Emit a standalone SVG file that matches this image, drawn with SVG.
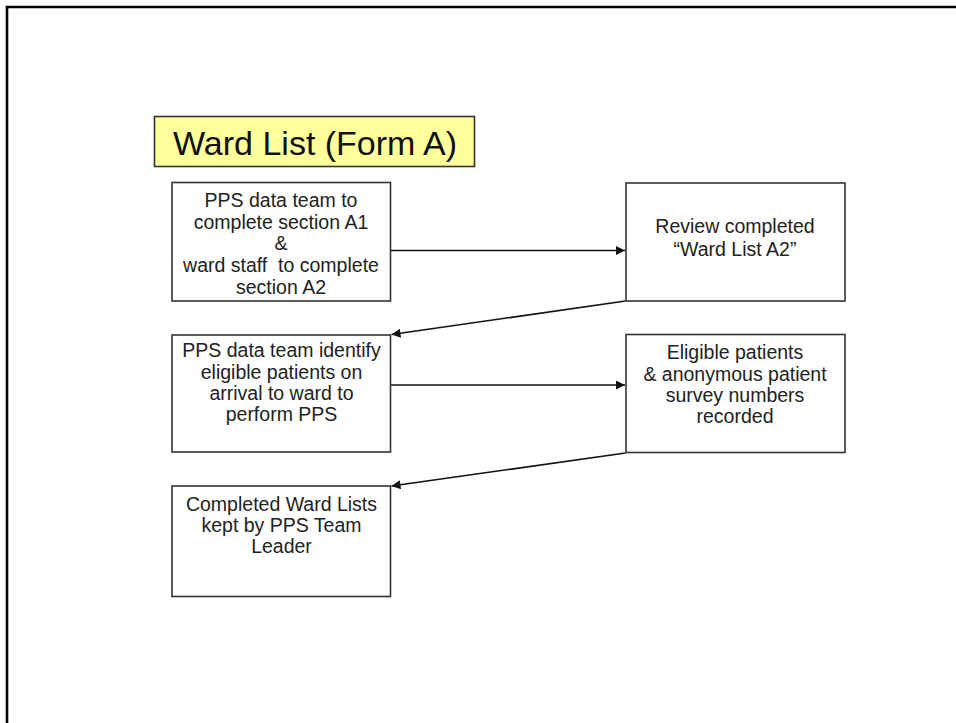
<svg xmlns="http://www.w3.org/2000/svg" width="956" height="723" viewBox="0 0 956 723">
<defs>
<style>
.box{fill:#fff;stroke:#333;stroke-width:1.6}
.t{font-family:"Liberation Sans",Arial,sans-serif;font-size:19.5px;fill:#222;text-anchor:middle}
.title{font-family:"Liberation Sans",Arial,sans-serif;font-size:34px;fill:#111}
.c{stroke:#111;stroke-width:1.6;fill:none;marker-end:url(#ah)}
</style>
<marker id="ah" viewBox="0 0 10 10" refX="10" refY="5" markerWidth="12" markerHeight="9" markerUnits="userSpaceOnUse" orient="auto">
<path d="M0,0 L10,5 L0,10 z" fill="#111"/>
</marker>
</defs>
<rect width="956" height="723" fill="#fff"/>
<path d="M7,723 V7 H956" fill="none" stroke="#000" stroke-width="2.6"/>
<g id="title">
<rect x="154.5" y="116.5" width="320" height="50" fill="#ffff9c" stroke="#333" stroke-width="1.6"/>
<text class="title" x="173" y="155">Ward List (Form A)</text>
</g>
<g id="connectors">
<line class="c" x1="391" y1="250.5" x2="625" y2="250.5"/>
<line class="c" x1="625.5" y1="301" x2="391.5" y2="334.5"/>
<line class="c" x1="391" y1="385" x2="625" y2="385"/>
<line class="c" x1="625.5" y1="453" x2="391.5" y2="486"/>
</g>
<g id="n1">
<rect class="box" x="172" y="182.5" width="218.5" height="118.5"/>
<text class="t" x="281" y="207">PPS data team to</text>
<text class="t" x="281" y="228.5">complete section A1</text>
<text class="t" x="281" y="250">&amp;</text>
<text class="t" x="281" y="272" xml:space="preserve">ward staff  to complete</text>
<text class="t" x="281" y="293.5">section A2</text>
</g>
<g id="n2">
<rect class="box" x="626" y="183" width="219" height="118"/>
<text class="t" x="735" y="233">Review completed</text>
<text class="t" x="735" y="256">“Ward List A2”</text>
</g>
<g id="n3">
<rect class="box" x="172" y="335" width="218.5" height="117"/>
<text class="t" x="281.5" y="357">PPS data team identify</text>
<text class="t" x="281.5" y="378.5">eligible patients on</text>
<text class="t" x="281.5" y="399.5">arrival to ward to</text>
<text class="t" x="281.5" y="420.5">perform PPS</text>
</g>
<g id="n4">
<rect class="box" x="626" y="334.5" width="219" height="118"/>
<text class="t" x="735" y="359">Eligible patients</text>
<text class="t" x="735" y="380.5">&amp; anonymous patient</text>
<text class="t" x="735" y="401.5">survey numbers</text>
<text class="t" x="735" y="422.5">recorded</text>
</g>
<g id="n5">
<rect class="box" x="172" y="486" width="218.5" height="110.5"/>
<text class="t" x="281.5" y="510.5">Completed Ward Lists</text>
<text class="t" x="281.5" y="532">kept by PPS Team</text>
<text class="t" x="281.5" y="553">Leader</text>
</g>
</svg>
